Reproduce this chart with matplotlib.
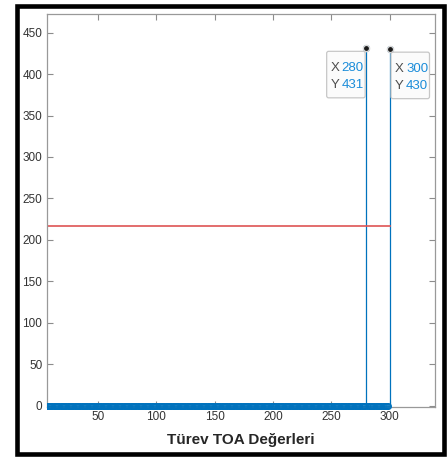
import numpy as np
import matplotlib
matplotlib.use("Agg")
import matplotlib.pyplot as plt
from matplotlib.patches import Rectangle, FancyBboxPatch

plt.rcParams['font.family'] = ['Liberation Sans Narrow', 'Liberation Sans', 'DejaVu Sans']

# Derivative of TOA values (sample index -> value)
toa_index = np.arange(1, 301)
peak_x = [280, 300]
peak_y = [431, 430]
threshold = 217

toa_deriv = np.zeros(len(toa_index))
for px, py in zip(peak_x, peak_y):
    toa_deriv[toa_index == px] = py

x_ticks = [50, 100, 150, 200, 250, 300]
y_ticks = [0, 50, 100, 150, 200, 250, 300, 350, 400, 450]
x_label = "Türev TOA Değerleri"

blue = (0.0, 0.447, 0.741)
red = (0.87, 0.33, 0.33)

fig = plt.figure(figsize=(4.47, 4.57), dpi=100)
ax = fig.add_axes([46.5 / 447, (457 - 407) / 457, 388.5 / 447, 393.5 / 457])

# stem plot
ax.vlines(toa_index, 0, toa_deriv, color=blue, lw=0.9, zorder=2)
markers, = ax.plot(toa_index, toa_deriv, ls='none', marker='o', ms=4.2, mfc='none',
                   mec=blue, mew=0.8, zorder=3)
# clip horizontally to the axes, but let markers spill below the x axis
markers.set_clip_path(Rectangle((0, -0.05), 1, 1.1, transform=ax.transAxes))

# threshold line
ax.plot(toa_index, np.full(len(toa_index), threshold), color=red, lw=1.2, zorder=2)

ax.set_xlim(6, 339)
ax.set_ylim(-1.5, 473)
ax.set_xticks(x_ticks)
ax.set_yticks(y_ticks)
ax.tick_params(direction='in', length=4, width=0.8, colors=(0.55, 0.55, 0.55),
               labelcolor=(0.2, 0.2, 0.2), labelsize=8.5, top=True, right=True, pad=3)
for s in ax.spines.values():
    s.set_color((0.6, 0.6, 0.6))
    s.set_linewidth(0.9)
ax.set_xlabel(x_label, fontsize=11, fontweight='bold', color=(0.15, 0.15, 0.15), labelpad=7)

# data tips
fig.canvas.draw()
for (px, py), side in zip(zip(peak_x, peak_y), ['left', 'right']):
    dx, dy = ax.transData.transform((px, py))
    w, h = 38.5, 46.5
    if side == 'left':
        bx = dx - 1.0 - w
    else:
        bx = dx + 1.5
    by = dy - 3.0 - h
    box = FancyBboxPatch((bx, by), w, h, boxstyle="round,pad=0,rounding_size=2",
                         transform=None, fc=(0.985, 0.985, 0.985), ec=(0.78, 0.78, 0.78),
                         lw=0.9, zorder=6)
    fig.patches.append(box)
    ax.plot([px], [py], marker='o', ms=4.5, mfc=(0.1, 0.1, 0.1), mec=(0.85, 0.85, 0.85),
            mew=1.0, zorder=7, clip_on=False)
    for k, (lab, val) in enumerate([("X", px), ("Y", py)]):
        ty = by + h - 17 - 16.5 * k
        fig.text(bx + 4.0, ty, lab, transform=None, fontsize=9.5, color=(0.3, 0.3, 0.3),
                 va='center', ha='left', zorder=8)
        fig.text(bx + 15.0, ty, str(val), transform=None, fontsize=9.5, color=(0.1, 0.55, 0.85),
                 va='center', ha='left', zorder=8)

# figure frame
frame = Rectangle((17 / 447, (457 - 454) / 457), (443.5 - 17) / 447, (454 - 6) / 457,
                  transform=fig.transFigure, fill=False, ec='black', lw=3.3, zorder=10)
fig.patches.append(frame)

fig.savefig("out.png", dpi=100)
